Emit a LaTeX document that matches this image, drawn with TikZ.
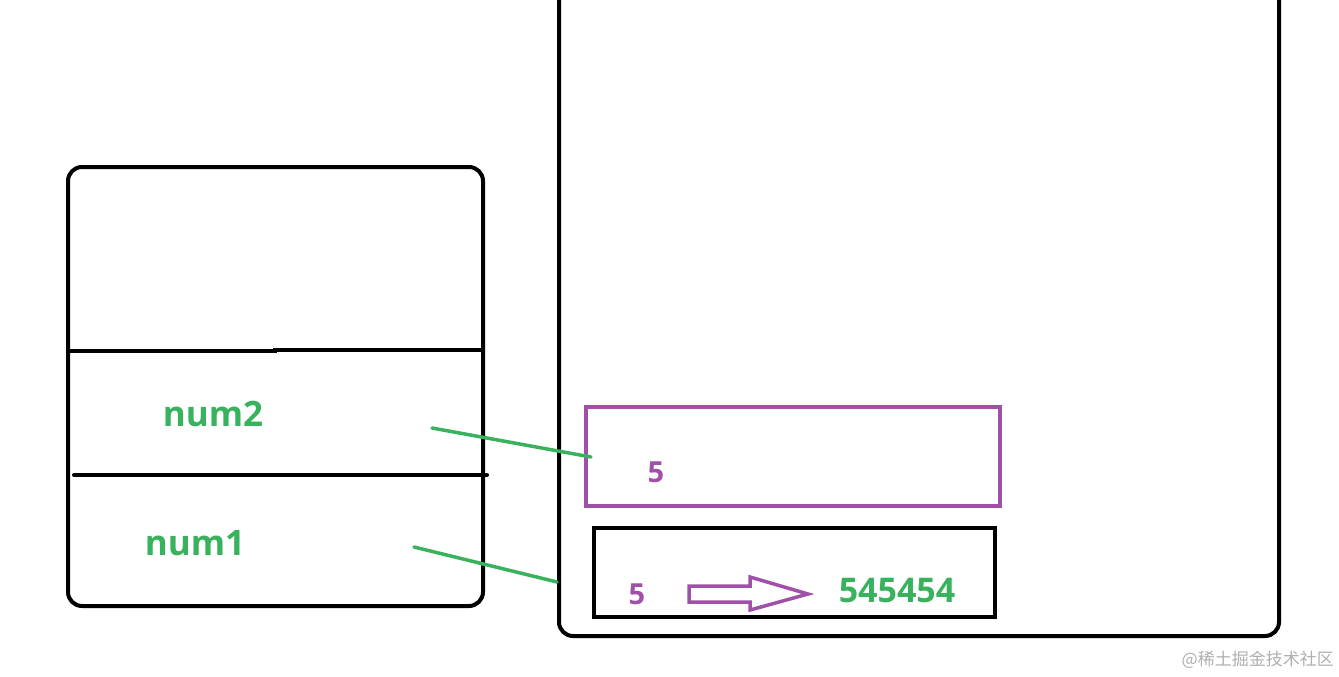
\documentclass[tikz,border=0pt]{standalone}
\usepackage{fontspec}
\setmainfont{Open Sans}
\newfontfamily\cjkfont{Noto Sans CJK SC}
\definecolor{numgreen}{RGB}{56,178,92}
\definecolor{valpurple}{RGB}{160,80,168}
\definecolor{wmgray}{RGB}{175,175,175}
\tikzset{
  frame/.style={draw=black, line width=4pt},
  varlabel/.style={text=numgreen, font=\bfseries\fontsize{35}{38}\selectfont, inner sep=0pt},
  vallabel/.style={text=valpurple, font=\bfseries\fontsize{29}{31}\selectfont, inner sep=0pt},
  link/.style={draw=numgreen, line width=3.5pt, line cap=round},
}
\begin{document}
\begin{tikzpicture}[x=1pt,y=-1pt]
\useasboundingbox (0,0) rectangle (1339,677);
% stack frame (left)
\draw[frame, rounded corners=14pt] (68,167) rectangle (483,606);
\draw[frame] (68,351) -- (275,351) -- (275,350) -- (483,350);
\draw[frame, line cap=round] (74,475) -- (487,475);
% heap (right)
\begin{scope}
\clip (0,0) rectangle (1339,677);
\draw[frame, rounded corners=14pt] (559,-20) rectangle (1279,636);
\end{scope}
% boxes in heap
\draw[draw=valpurple, line width=3.5pt] (586,407) rectangle (1000,506);
\draw[frame] (594,528) rectangle (995,617);
% labels
\node[varlabel] (num2) at (213,414) {num2};
\node[varlabel] (num1) at (195,543) {num1};
\node[vallabel] (v2) at (656,472) {5};
\node[vallabel] (v1) at (637,594) {5};
\node[varlabel, font=\bfseries\fontsize{34}{36}\selectfont] (new) at (897,591) {545454};
% connectors
\coordinate (s2) at (432,428);
\coordinate (e2) at (591,457);
\coordinate (s1) at (414,547);
\coordinate (e1) at (557,582);
\draw[link] (s2) -- (e2);
\draw[link] (s1) -- (e1);
% hollow arrow
\draw[draw=valpurple, line width=3.5pt, line join=miter]
  (689,586) -- (750,586) -- (750,577) -- (808,594) -- (750,610) -- (750,602) -- (689,602) -- cycle;
% watermark
\node[text=wmgray, font=\cjkfont\fontsize{17}{20}\selectfont, anchor=east, inner sep=0pt] (wm) at (1334,660) {@稀土掘金技术社区};
\end{tikzpicture}
\end{document}
